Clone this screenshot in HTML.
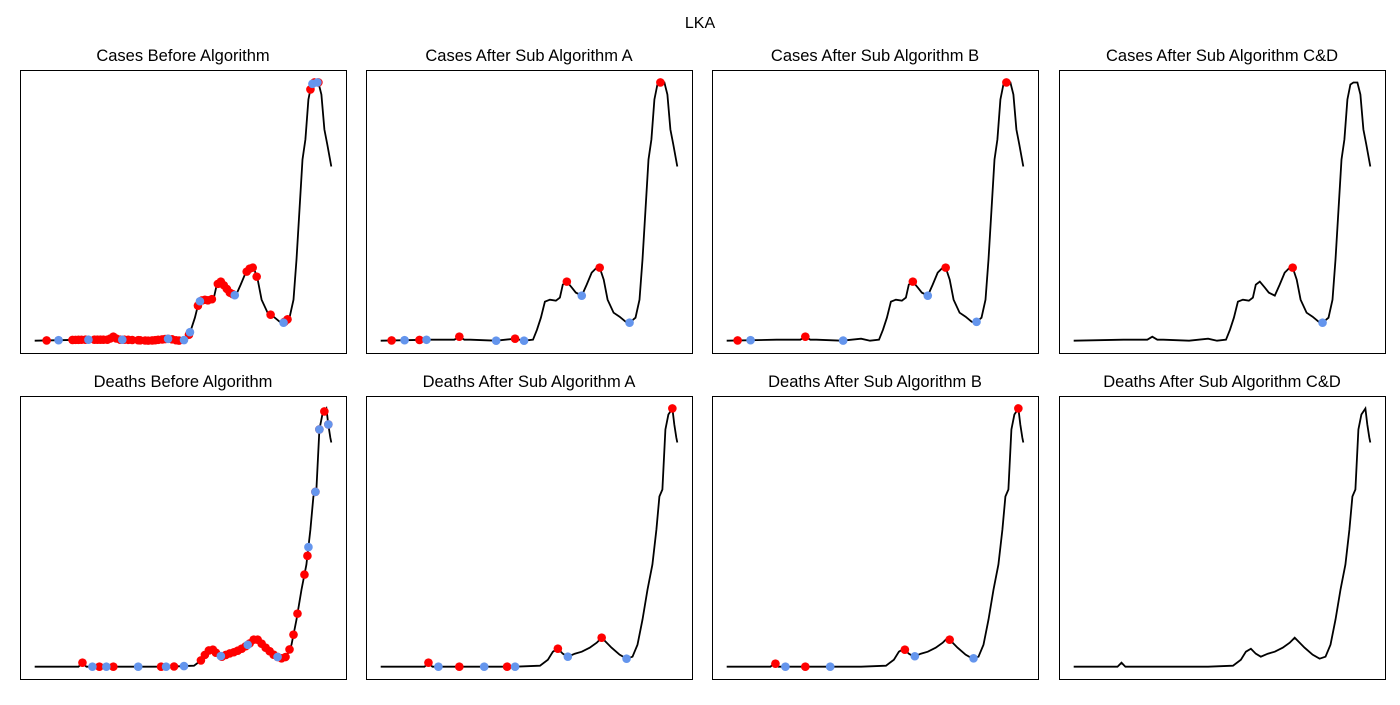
<!DOCTYPE html>
<html><head><meta charset="utf-8"><style>
body{margin:0;background:#fff;font-family:"Liberation Sans",sans-serif}
svg text{font-family:"Liberation Sans",sans-serif}
</style></head><body>
<svg id="chart" width="1400" height="700">
<text x="700" y="28" text-anchor="middle" font-size="16">LKA</text>
</svg>
<script>
const caseDays=[0,50,74,79,84,90,116,135,144,153,157,161,165,170,176,180,183,187,192,196,202,207,212,217,220,224,228,234,240,246,250,256,260,263,266,269,272,275,278,281,285,288,291,294,298];
const caseVals=[0,1,1,4,1,1,0,2,0,1,11,23,39,41,40,43,56,59,53,48,45,56,68,73,73,61,41,28,24,19,18,23,41,81,131,181,201,241,256,258,258,246,211,196,174];
const deathDays=[0,44,48,52,60,79,104,127,135,160,168,173,178,183,188,195,202,210,217,222,226,232,240,247,253,258,263,268,273,277,280,283,286,289,293,295,297,298];
const deathVals=[0,0,4,0,0,0,0,0,0,1,7,15,18,13,10,13,15,19,24,29,25,19,12,8,10,22,47,77,102,137,170,177,237,252,258,242,229,224];
const titles=["Cases Before Algorithm","Cases After Sub Algorithm A","Cases After Sub Algorithm B","Cases After Sub Algorithm C&D","Deaths Before Algorithm","Deaths After Sub Algorithm A","Deaths After Sub Algorithm B","Deaths After Sub Algorithm C&D"];
const redDays=[
[12,38,41,44,47,51,60,63,66,69,73,76,79,82,86,90,94,98,104,106,111,114,118,121,124,128,131,134,138,142,145,155,164,168,171,174,178,184,187,190,193,196,199,213,216,219,223,237,251,254,277,281,285],
[11,39,79,135,187,220,281],
[11,79,187,220,281],
[220],
[48,65,79,127,140,167,171,175,179,182,188,192,196,200,204,208,212,216,220,224,228,232,236,240,244,248,252,256,260,264,271,274,282,286,291,295],
[48,79,127,178,222,293],
[49,79,179,224,293],
[]];
const blueDays=[
[24,54,88,134,150,156,166,201,250,279,284],
[24,46,116,144,202,250],
[24,117,202,251],
[250],
[58,72,104,132,150,187,214,244,275,282,286,295],
[58,104,135,188,247],
[59,104,189,248],
[]];
const NS="http://www.w3.org/2000/svg";
const svg=document.getElementById('chart');
const colX=[20,366,712,1059],rowY=[70,396],PW=326,PH=283;
function interp(days,vals,d){for(let i=1;i<days.length;i++){if(d<=days[i]){const t=(d-days[i-1])/(days[i]-days[i-1]);return vals[i-1]+t*(vals[i]-vals[i-1]);}}return vals[vals.length-1];}
function mk(tag,attrs){const e=document.createElementNS(NS,tag);for(const k in attrs)e.setAttribute(k,attrs[k]);svg.appendChild(e);return e;}
for(let p=0;p<8;p++){
 const r=Math.floor(p/4),c=p%4,x0=colX[c],y0=rowY[r];
 const days=r?deathDays:caseDays,vals=r?deathVals:caseVals;
 const xmax=298,ymax=Math.max(...vals);
 const sx=d=>x0+PW*(0.045+0.91*d/xmax);
 const sy=v=>y0+PH*(1-(0.0435+0.9125*v/ymax));
 const t=mk('text',{x:x0+PW/2,y:y0-9,'text-anchor':'middle','font-size':'16.5'});t.textContent=titles[p];
 
 
 let dstr='';days.forEach((d,i)=>{dstr+=(i?'L':'M')+sx(d).toFixed(1)+','+sy(vals[i]).toFixed(1);});
 const l=mk('path',{d:dstr,fill:'none',stroke:'#000','stroke-width':'1.8'});
 
 
 redDays[p].forEach(d=>{const m=mk('circle',{cx:sx(d),cy:sy(interp(days,vals,d)),r:4.3,fill:'#ff0000'});
  
  });
 blueDays[p].forEach(d=>{const m=mk('circle',{cx:sx(d),cy:sy(interp(days,vals,d)),r:4.3,fill:'#6495ed'});
  
  });
 const f=mk('rect',{x:x0+0.5,y:y0+0.5,width:PW,height:PH,fill:'none',stroke:'#000','stroke-width':'1'});
 
 
}
</script>
</body></html>
